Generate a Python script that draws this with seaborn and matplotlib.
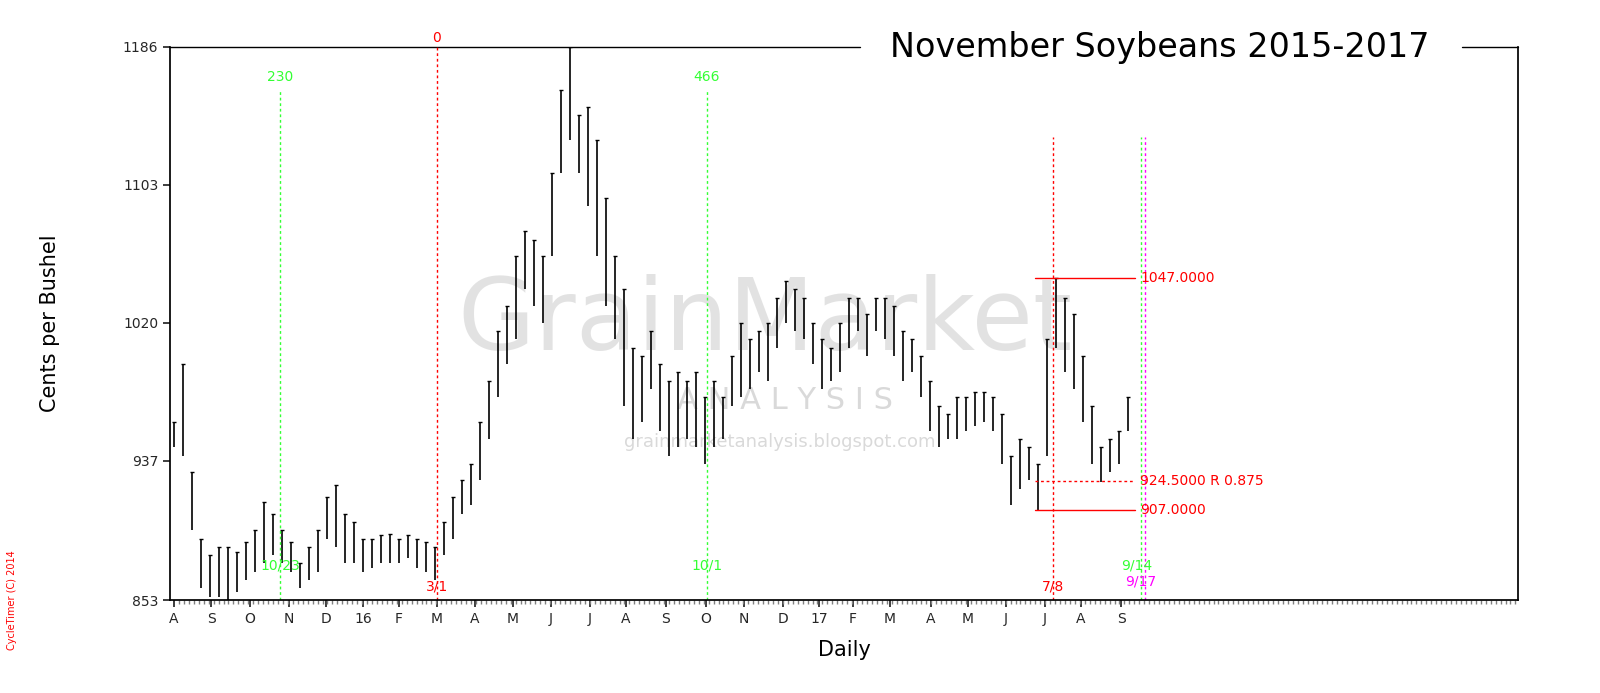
import matplotlib
matplotlib.use("Agg")
import matplotlib.pyplot as plt
import seaborn as sns
import numpy as np
import pandas as pd

sns.set_theme(style="white")
plt.rcParams['font.family'] = ['DejaVu Sans']

# weekly high / low (cents per bushel), week 0 = early Aug 2015
highs = [960,995,930,890,880,885,885,882,888,895,912,905,895,888,875,885,895,915,922,905,900,
         890,890,892,893,890,892,890,888,885,900,915,925,935,960,985,1015,1030,1060,1075,1070,1060,
         1110,1160,1186,1145,1150,1130,1095,1060,1040,1005,1000,1015,995,985,990,985,990,975,985,975,
         1000,1020,1010,1015,1020,1035,1045,1040,1035,1020,1010,1005,1020,1035,1035,1025,1035,1035,1030,
         1015,1010,1000,985,970,965,975,975,978,978,975,965,940,950,945,935,1010,1047,1035,1025,1000,
         970,945,950,955,975]
lows = [945,940,895,860,855,855,853,858,865,870,875,880,875,870,860,865,870,890,885,875,875,
        870,872,875,875,875,878,872,870,865,880,890,905,910,925,950,975,995,1010,1040,1030,1020,
        1060,1110,1130,1110,1090,1060,1030,1010,970,950,960,980,955,940,945,950,945,935,945,950,
        970,975,980,990,985,1005,1020,1015,1010,995,980,985,990,1005,1015,1000,1015,1010,1000,
        985,990,975,955,945,950,950,955,958,960,955,935,910,920,925,907,940,1005,990,980,960,
        935,924,930,935,955]

month_labels = ["A","S","O","N","D","16","F","M","A","M","J","J","A","S","O","N","D","17","F","M","A","M","J","J","A","S"]
month_px = [174,211,250,289,326,363,399,437,475,513,551,590,626,666,706,744,783,819,853,890,931,968,1006,1045,1081,1121]
yticks = [853,937,1020,1103,1186]

def px(p):
    return (p - 174) / 9.0

df = pd.DataFrame({"week": np.arange(len(highs)), "high": highs, "low": lows})

fig = plt.figure(figsize=(16, 6.93), dpi=100)
ax = fig.add_axes([170/1600, 93/693, 1348/1600, 553/693])
ax.vlines(df["week"], df["low"], df["high"], color="black", lw=1.2)
sns.scatterplot(data=df, x="week", y="high", marker="_", color="black", s=12, ax=ax, linewidth=1)

ax.set_xlim(px(170), px(1518))
ax.set_ylim(853, 1186)
ax.set_yticks(yticks)
ax.set_yticklabels([str(v) for v in yticks], fontsize=10)
ax.set_xticks([px(p) for p in month_px])
ax.set_xticklabels(month_labels, fontsize=10)
ax.set_xticks(np.arange(0, 149.3, 0.55), minor=True)
ax.tick_params(axis="x", which="minor", length=3, color="gray", bottom=True)
ax.tick_params(axis="x", which="major", length=5, bottom=True)
ax.tick_params(axis="y", length=5, left=True)
for s in ["left", "right", "bottom"]:
    ax.spines[s].set_color("black")
ax.spines["top"].set_visible(False)
ax.plot([px(170), px(860)], [1186, 1186], color="black", lw=1, clip_on=False)
ax.plot([px(1462), px(1518)], [1186, 1186], color="black", lw=1, clip_on=False)
ax.text(px(1160), 1186, "November Soybeans 2015-2017", fontsize=24, ha="center", va="center", color="black")

ax.set_ylabel("Cents per Bushel", fontsize=15, labelpad=45, color="black")
ax.set_xlabel("Daily", fontsize=15, labelpad=10, color="black")

# watermark
ax.text(px(765), 1020, "GrainMarket", fontsize=72, color="#d0d0d0", alpha=0.6, ha="center", va="center", zorder=0)
ax.text(px(785), 973, "A N A L Y S I S", fontsize=22, color="#d0d0d0", alpha=0.8, ha="center", va="center", zorder=0)
ax.text(px(780), 948, "grainmarketanalysis.blogspot.com", fontsize=13, color="#d0d0d0", alpha=0.8, ha="center", va="center", zorder=0)

dash = (0, (2, 2))
# cycle lines
for p, c, top, bot, ytop in [(280, "#33ff33", "230", "10/23", 1168),
                             (707, "#33ff33", "466", "10/1", 1168)]:
    ax.plot([px(p)] * 2, [853, ytop - 8], color=c, ls=dash, lw=1)
    ax.text(px(p), ytop, top, color=c, fontsize=10, ha="center", va="center")
    ax.text(px(p), 874, bot, color=c, fontsize=10, ha="center", va="center")
ax.plot([px(437)] * 2, [853, 1186], color="red", ls=dash, lw=1)
ax.text(px(437), 1187, "0", color="red", fontsize=10, ha="center", va="bottom")
ax.text(px(437), 857, "3/1", color="red", fontsize=10, ha="center", va="bottom")
ax.plot([px(1053)] * 2, [853, 1132], color="red", ls=dash, lw=1)
ax.text(px(1053), 857, "7/8", color="red", fontsize=10, ha="center", va="bottom")
ax.plot([px(1141)] * 2, [853, 1132], color="#33ff33", ls=dash, lw=1)
ax.plot([px(1145)] * 2, [853, 1132], color="magenta", ls=dash, lw=1)
ax.text(px(1137), 874, "9/14", color="#33ff33", fontsize=10, ha="center", va="center")
ax.text(px(1141), 864, "9/17", color="magenta", fontsize=10, ha="center", va="center")

# levels
for val, lab, ls in [(1047, "1047.0000", "-"), (924.5, "924.5000 R 0.875", dash), (907, "907.0000", "-")]:
    ax.plot([px(1035), px(1135)], [val, val], color="red", ls=ls, lw=1)
    ax.text(px(1140), val, lab, color="red", fontsize=10, va="center")

fig.text(12/1600, 1 - 600/693, "CycleTimer (C) 2014", color="red", fontsize=7, rotation=90, ha="center", va="center")
fig.savefig("out.png", dpi=100)
